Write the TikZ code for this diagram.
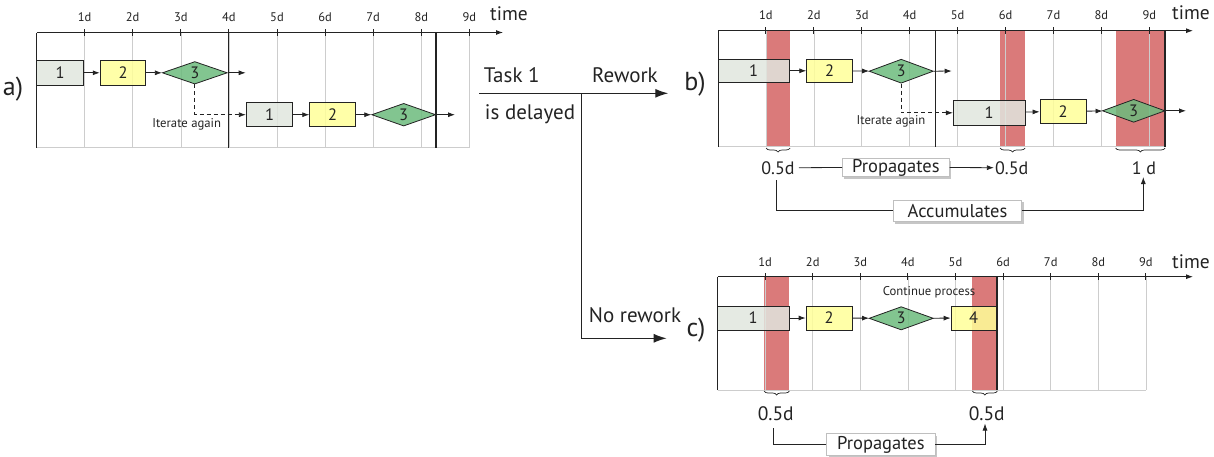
\documentclass[tikz,border=0pt]{standalone}
\usepackage{fontspec}
\setmainfont{PT Sans}
\usetikzlibrary{arrows.meta,shapes.geometric,shadows,decorations.pathreplacing}
\definecolor{taskgray}{RGB}{225,230,222}
\definecolor{taskyel}{RGB}{255,255,153}
\definecolor{taskgreen}{RGB}{108,187,125}
\definecolor{bandred}{RGB}{218,122,122}
\definecolor{gridgray}{RGB}{205,205,205}
\definecolor{ink}{RGB}{35,35,35}
\begin{document}
\begin{tikzpicture}[x=1pt,y=-1pt,
  taskbox/.style={draw=ink, line width=0.8pt, inner sep=0pt, minimum height=24pt,
    font=\fontsize{16.5}{16.5}\selectfont, text=ink, fill opacity=0.85, text opacity=1},
  tgray/.style={taskbox, fill=taskgray},
  tyel/.style={taskbox, fill=taskyel},
  tdia/.style={taskbox, diamond, fill=taskgreen, minimum height=23pt},
  flow/.style={-{Latex[length=7pt,width=5pt]}, line width=0.8pt, draw=ink},
  dashflow/.style={flow, dash pattern=on 4pt off 3pt},
  ticklbl/.style={font=\fontsize{12.5}{12.5}\selectfont, text=ink, inner sep=0pt},
  gridline/.style={draw=gridgray, line width=0.6pt},
  axis/.style={draw=ink, line width=0.9pt},
  timelbl/.style={font=\fontsize{19.5}{19.5}\selectfont, text=ink, inner sep=0pt},
  bandfill/.style={fill=bandred},
  brc/.style={decorate, decoration={brace,mirror,amplitude=4pt}, draw=ink, line width=0.7pt},
  vallbl/.style={font=\fontsize{18}{18}\selectfont, text=ink, inner sep=1pt},
  callout/.style={draw=black!25, fill=white, line width=0.5pt, font=\fontsize{18.5}{18.5}\selectfont,
    text=ink, inner sep=0pt, drop shadow={shadow xshift=2pt, shadow yshift=-2.5pt, opacity=0.45}},
  bigflow/.style={-{Latex[length=13pt,width=9pt]}, line width=1.3pt, draw=ink},
  biglbl/.style={font=\fontsize{21}{21}\selectfont, text=ink, inner sep=0pt},
  panellbl/.style={font=\fontsize{26}{26}\selectfont, text=ink, inner sep=0pt},
  note/.style={font=\fontsize{12.7}{12.7}\selectfont, text=ink, inner sep=0pt}
]
\useasboundingbox (0,0) rectangle (1214,456);

% ================= panel a =================
\foreach \i in {1,...,9} \draw[gridline] ({36.5+48.1*\i},32.5) -- ({36.5+48.1*\i},147.5);
\draw[gridline] (36.5,147.5) -- (469.4,147.5);
\draw[axis] (36.5,147.5) -- (36.5,32.5);
\draw[axis,-{Latex[length=7pt,width=5pt]}] (36.5,32.5) -- (503,32.5);
\foreach \i in {1,...,9} {
  \draw[axis] ({36.5+48.1*\i},29) -- ++(0,7);
  \node[ticklbl] (ta\i) at ({36.5+48.1*\i},17) {\i d};
}
\node[timelbl] (timea) at (509,14) {time};
\draw[axis, line width=1.2pt] (228.5,32.5) -- (228.5,147.5);
\draw[axis, line width=2pt] (435.7,32.5) -- (435.7,147.5);
\node[panellbl] (la) at (13,89) {a)};

\node[tgray, minimum width=46.6pt, minimum height=24.3pt] (a11) at (60,72.8) {1};
\node[tyel, minimum width=45.7pt, minimum height=24.3pt] (a12) at (123,72.8) {2};
\node[tdia, minimum width=65pt, minimum height=22.5pt] (a13) at (194.8,72.8) {3};
\coordinate (aend1) at (245.7,72.8);
\draw[flow] (a11) -- (a12);
\draw[flow] (a12) -- (a13);
\draw[flow] (a13.east) -- (aend1);

\node[tgray, minimum width=46.4pt] (a21) at (269.5,114.7) {1};
\node[tyel, minimum width=45.6pt] (a22) at (332.5,114.7) {2};
\node[tdia, minimum width=64pt, minimum height=22.7pt] (a23) at (403.7,114.7) {3};
\coordinate (aend2) at (455,114.7);
\draw[flow] (a21) -- (a22);
\draw[flow] (a22) -- (a23);
\draw[flow] (a23.east) -- (aend2);
\draw[dashflow] (a13.south) |- (a21.west);
\node[note] (ita) at (186.7,124) {Iterate again};

% ================= middle =================
\coordinate (ms) at (479.3,93.3);
\coordinate (mj) at (581.7,93.3);
\coordinate (me1) at (668.3,93.3);
\coordinate (me2) at (666.7,338.3);
\draw[bigflow] (ms) -- (me1);
\draw[bigflow] (mj) |- (me2);
\node[biglbl] (mt1) at (511.7,75) {Task 1};
\node[biglbl] (mrw) at (625,75) {Rework};
\node[biglbl] (mdl) at (530,114.5) {is delayed};
\node[biglbl] (mnr) at (635,315) {No rework};

% ================= panel b =================
\fill[bandfill] (766,30.7) rectangle (790,146.7);
\fill[bandfill] (1000,30.7) rectangle (1025,146.7);
\fill[bandfill] (1115.7,30.7) rectangle (1165,146.7);
\foreach \i in {1,...,9} \draw[gridline] ({718+47.92*\i},30.7) -- ({718+47.92*\i},146.7);
\draw[gridline] (718,146.7) -- (1165,146.7);
\draw[axis] (718,146.7) -- (718,30.7);
\draw[axis,-{Latex[length=7pt,width=5pt]}] (718,30.7) -- (1193,30.7);
\foreach \i in {1,...,9} {
  \draw[axis] ({718+47.92*\i},27.2) -- ++(0,7);
  \node[ticklbl] (tb\i) at ({718+47.92*\i},15) {\i d};
}
\node[timelbl] (timeb) at (1191,13) {time};
\draw[axis, line width=1pt] (935,30.7) -- (935,146.7);
\node[panellbl] (lb) at (695,84) {b)};

\node[tgray, minimum width=71.3pt, minimum height=23.7pt] (b11) at (753.7,70.8) {1};
\node[tyel, minimum width=45.6pt, minimum height=23.7pt] (b12) at (829.5,70.8) {2};
\node[tdia, minimum width=64.3pt, minimum height=24pt] (b13) at (901.2,71.2) {3};
\coordinate (bend1) at (951.7,71);
\draw[flow] (b11) -- (b12);
\draw[flow] (b12) -- (b13);
\draw[flow] (b13.east) -- (bend1);

\node[tgray, minimum width=71.7pt, minimum height=24.3pt] (b21) at (989.2,112.8) {1};
\node[tyel, minimum width=46pt] (b22) at (1063,111.3) {2};
\node[tdia, minimum width=62.7pt, minimum height=23pt] (b23) at (1133.7,110.8) {3};
\coordinate (bend2) at (1186,110.8);
\draw[flow] (b21) -- (b22);
\draw[flow] (b22) -- (b23);
\draw[flow] (b23.east) -- (bend2);
\draw[dashflow] (b13.south) |- (b21.west);
\node[note] (itb) at (891,121.7) {Iterate again};
\draw[axis, line width=2pt] (1165,30.7) -- (1165,146.7);

\draw[brc] (766,148) -- (790,148);
\draw[brc] (1000,148) -- (1025,148);
\draw[brc] (1115.7,148) -- (1165,148);

\node[vallbl] (b05a) at (778,167.7) {0.5d};
\node[vallbl] (b05b) at (1011.7,167.7) {0.5d};
\node[vallbl] (b1d) at (1144,167.7) {1 d};
\node[callout, minimum width=107pt, minimum height=18.4pt] (bprop) at (895.8,167.5) {Propagates};
\node[callout, minimum width=128.4pt, minimum height=21.7pt] (bacc) at (957.5,210.8) {Accumulates};
\draw[line width=0.8pt, draw=ink] (b05a.east) ++(3pt,0) -- (bprop.west);
\draw[flow] (bprop.east) -- (b05b.west);
\draw[line width=0.8pt, draw=ink] (776,180) |- (bacc.west);
\draw[flow] (bacc.east) -| (1143.3,177);

% ================= panel c =================
\fill[bandfill] (764,276.7) rectangle (789.3,390);
\fill[bandfill] (972.3,276.7) rectangle (997.3,390);
\foreach \i in {1,...,9} \draw[gridline] ({717.5+47.6*\i},276.7) -- ({717.5+47.6*\i},390);
\draw[gridline] (717.5,390) -- (1146,390);
\draw[axis] (717.5,390) -- (717.5,276.7);
\draw[axis,-{Latex[length=7pt,width=5pt]}] (717.5,276.7) -- (1193,276.7);
\foreach \i in {1,...,9} {
  \draw[axis] ({717.5+47.6*\i},273.2) -- ++(0,7);
  \node[ticklbl] (tc\i) at ({717.5+47.6*\i},261.7) {\i d};
}
\node[timelbl] (timec) at (1191,261.7) {time};
\node[panellbl] (lc) at (696,330) {c)};

\node[tgray, minimum width=71.7pt] (c1) at (753.2,318) {1};
\node[tyel, minimum width=46.3pt] (c2) at (829.2,318) {2};
\node[tdia, minimum width=64.3pt, minimum height=23.3pt] (c3) at (901.2,318.3) {3};
\node[tyel, minimum width=45pt] (c4) at (973.5,318) {4};
\draw[flow] (c1) -- (c2);
\draw[flow] (c2) -- (c3);
\draw[flow] (c3) -- (c4);
\node[note] (cont) at (929,292.3) {Continue process};
\draw[axis, line width=2pt] (997.3,276.7) -- (997.3,390);

\draw[brc] (764,391) -- (789.3,391);
\draw[brc] (972.3,391) -- (997.3,391);

\node[vallbl, font=\fontsize{19.5}{19.5}\selectfont] (c05a) at (775.7,413.3) {0.5d};
\node[vallbl, font=\fontsize{19.5}{19.5}\selectfont] (c05b) at (986.7,413.3) {0.5d};
\node[callout, minimum width=108.3pt, minimum height=22pt, anchor=north] (cprop) at (880.8,433.3) {Propagates};
\draw[line width=0.8pt, draw=ink] (773.3,428.3) |- (cprop.west);
\draw[flow] (cprop.east) -| (985,423.5);
\end{tikzpicture}
\end{document}
